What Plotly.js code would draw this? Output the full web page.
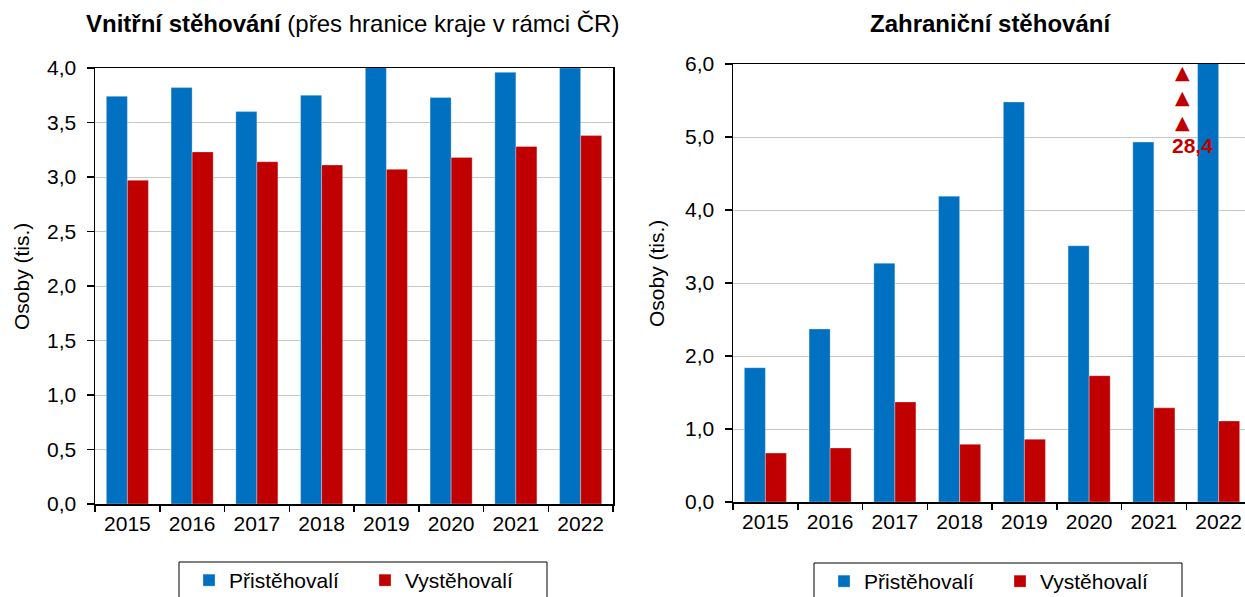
<!DOCTYPE html>
<html>
<head>
<meta charset="utf-8">
<script src="https://cdn.plot.ly/plotly-3.0.1.min.js"></script>
<style>html,body{margin:0;padding:0;overflow:hidden;background:#fff}</style>
</head>
<body>
<div id="chart"></div>
<script>
const years = ["2015","2016","2017","2018","2019","2020","2021","2022"];
const internalIn  = [3.74, 3.82, 3.60, 3.75, 4.01, 3.73, 3.96, 4.00];
const internalOut = [2.97, 3.23, 3.14, 3.11, 3.07, 3.18, 3.28, 3.38];
const foreignIn   = [1.84, 2.37, 3.27, 4.19, 5.48, 3.51, 4.93, 28.4];
const foreignOut  = [0.67, 0.74, 1.37, 0.79, 0.86, 1.73, 1.29, 1.11];
const seriesNames = ["Přistěhovalí", "Vystěhovalí"];
const leftTitle = "<b>Vnitřní stěhování</b> (přes hranice kraje v rámci ČR)";
const rightTitle = "<b>Zahraniční stěhování</b>";
const yTitle = "Osoby (tis.)";
const overflowLabel = "28,4";

const BLUE = "#0070c0", RED = "#c00000";
const FONT = "Liberation Sans, Arial, sans-serif";
const W = 1252, H = 620;
const fx = p => p / W, fy = p => 1 - p / H;
const edge = {color:"rgba(255,255,255,0.3)", width:1};

const traces = [
  {type:"bar", x:years, y:internalIn, name:seriesNames[0], marker:{color:BLUE, line:edge}, xaxis:"x", yaxis:"y", legend:"legend"},
  {type:"bar", x:years, y:internalOut, name:seriesNames[1], marker:{color:RED, line:edge}, xaxis:"x", yaxis:"y", legend:"legend"},
  {type:"bar", x:years, y:foreignIn, name:seriesNames[0], marker:{color:BLUE, line:edge}, xaxis:"x2", yaxis:"y2", legend:"legend2"},
  {type:"bar", x:years, y:foreignOut, name:seriesNames[1], marker:{color:RED, line:edge}, xaxis:"x2", yaxis:"y2", legend:"legend2"}
];

const xBase = {
  type:"category", showline:true, linecolor:"#000", linewidth:1.5, mirror:true,
  ticks:"outside", tickson:"boundaries", ticklen:6, tickcolor:"#000", tickwidth:1.5,
  tickfont:{family:FONT, size:21, color:"#000"}, showgrid:false, fixedrange:true
};
const yBase = {
  showline:true, linecolor:"#000", linewidth:1.5, mirror:true,
  ticks:"outside", ticklen:7, tickcolor:"#000", tickwidth:1.5, ticklabelstandoff:6,
  tickfont:{family:FONT, size:21, color:"#000"}, tickformat:".1f",
  showgrid:true, gridcolor:"#c8c8c8", gridwidth:1, zeroline:false, fixedrange:true
};
const legBase = {
  orientation:"h", xanchor:"left", yanchor:"top",
  borderwidth:0, bgcolor:"rgba(0,0,0,0)",
  font:{family:FONT, size:21, color:"#000"},
  entrywidth:131, entrywidthmode:"pixels", itemwidth:30
};
const boxLine = {color:"#000", width:1};

const layout = {
  width:W, height:H, margin:{l:0,r:0,t:0,b:0},
  paper_bgcolor:"#fff", plot_bgcolor:"#fff",
  separators:", ", barmode:"group", bargap:0.35, bargroupgap:0,
  font:{family:FONT, size:21, color:"#000"},
  xaxis:Object.assign({}, xBase, {domain:[fx(95), fx(613)], anchor:"y"}),
  yaxis:Object.assign({}, yBase, {domain:[fy(504), fy(68)], range:[0,4], dtick:0.5, anchor:"x"}),
  xaxis2:Object.assign({}, xBase, {domain:[fx(733), fx(1251)], anchor:"y2"}),
  yaxis2:Object.assign({}, yBase, {domain:[fy(502), fy(64)], range:[0,6], dtick:1, anchor:"x2"}),
  legend:Object.assign({}, legBase, {x:fx(189), y:fy(560)}),
  legend2:Object.assign({}, legBase, {x:fx(824), y:fy(561)}),
  shapes:[
    {type:"rect", xref:"paper", yref:"paper", x0:fx(179), x1:fx(547), y0:fy(562), y1:fy(615), line:boxLine, fillcolor:"rgba(0,0,0,0)", layer:"below"},
    {type:"rect", xref:"paper", yref:"paper", x0:fx(814), x1:fx(1182), y0:fy(563), y1:fy(615), line:boxLine, fillcolor:"rgba(0,0,0,0)", layer:"below"}
  ],
  annotations:[
    {text:leftTitle, xref:"paper", yref:"paper", x:fx(352), y:fy(23), xanchor:"center", yanchor:"middle", showarrow:false, font:{family:FONT, size:24, color:"#000"}},
    {text:rightTitle, xref:"paper", yref:"paper", x:fx(990), y:fy(23), xanchor:"center", yanchor:"middle", showarrow:false, font:{family:FONT, size:24, color:"#000"}},
    {text:yTitle, xref:"paper", yref:"paper", x:fx(21), y:fy(277), textangle:-90, xanchor:"center", yanchor:"middle", showarrow:false, font:{family:FONT, size:21, color:"#000"}},
    {text:yTitle, xref:"paper", yref:"paper", x:fx(656), y:fy(274), textangle:-90, xanchor:"center", yanchor:"middle", showarrow:false, font:{family:FONT, size:21, color:"#000"}},
    {text:"▲", xref:"x2", yref:"y2", x:6.44, y:5.89, showarrow:false, font:{family:"DejaVu Sans", size:19, color:RED}},
    {text:"▲", xref:"x2", yref:"y2", x:6.44, y:5.55, showarrow:false, font:{family:"DejaVu Sans", size:19, color:RED}},
    {text:"▲", xref:"x2", yref:"y2", x:6.44, y:5.21, showarrow:false, font:{family:"DejaVu Sans", size:19, color:RED}},
    {text:"<b>"+overflowLabel+"</b>", xref:"x2", yref:"y2", x:6.6, y:4.89, showarrow:false, font:{family:FONT, size:21, color:RED}}
  ]
};

Plotly.newPlot("chart", traces, layout, {displayModeBar:false, staticPlot:true});
</script>
</body>
</html>
